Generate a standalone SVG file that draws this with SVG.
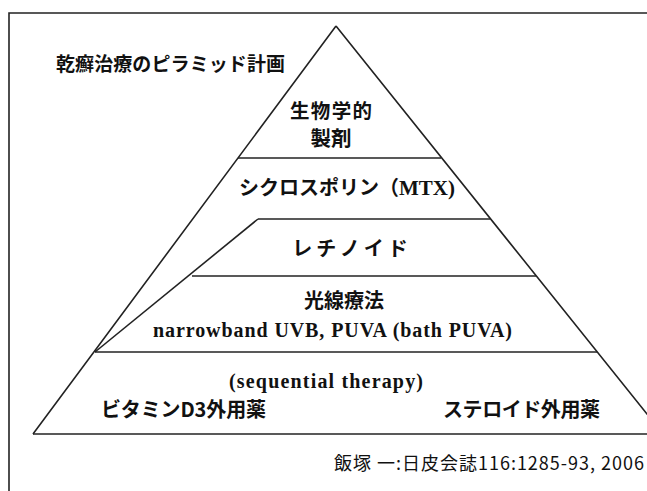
<svg xmlns="http://www.w3.org/2000/svg" width="647" height="491" viewBox="0 0 647 491">
<style>
.jp{font-family:"Noto Sans CJK JP","Noto Sans",sans-serif;font-weight:700;fill:#111;}
.en{font-family:"Liberation Serif","Times New Roman",serif;font-weight:700;fill:#111;}
.cite{font-family:"Noto Sans CJK JP","Noto Sans",sans-serif;font-weight:400;fill:#111;}
.ln{stroke:#222;stroke-width:1.6;fill:none;}
</style>
<rect width="647" height="491" fill="#fff"/>
<g id="frame"><path class="ln" d="M9,491 V13 H647"/></g>
<g id="title"><text class="jp" x="56" y="71" font-size="19" textLength="229">乾癬治療のピラミッド計画</text></g>
<g id="connectors">
<path class="ln" d="M336,26 L33,434 M336,26 L663,434"/>
<path class="ln" d="M238,158 L441,158"/>
<path class="ln" d="M258,219 L490,219"/>
<path class="ln" d="M192,276 L536,276"/>
<path class="ln" d="M258,219 L95,352"/>
<path class="ln" d="M95,352 L597,352"/>
<path class="ln" d="M33,434 L647,434"/>
</g>
<g id="biologics">
<text class="jp" x="331" y="118" font-size="19.5" text-anchor="middle" textLength="82">生物学的</text>
<text class="jp" x="331" y="146" font-size="20.5" text-anchor="middle">製剤</text>
</g>
<g id="cyclosporin">
<text x="239" y="195" font-size="20"><tspan class="jp">シクロスポリン（</tspan><tspan class="en" font-size="21">MTX)</tspan></text>
</g>
<g id="retinoid"><text class="jp" x="352" y="256" font-size="20" text-anchor="middle" letter-spacing="4">レチノイド</text></g>
<g id="phototherapy">
<text class="jp" x="344" y="308" font-size="20" text-anchor="middle">光線療法</text>
<text class="en" x="153" y="337" font-size="20" textLength="359">narrowband UVB, PUVA (bath PUVA)</text>
</g>
<g id="topical">
<text class="en" x="229" y="388" font-size="20" textLength="194">(sequential therapy)</text>
<text class="jp" x="101" y="417" font-size="20" textLength="165">ビタミンD3外用薬</text>
<text class="jp" x="443" y="417" font-size="20" textLength="157">ステロイド外用薬</text>
</g>
<g id="citation"><text class="cite" x="334" y="470" font-size="18" textLength="310">飯塚 一:日皮会誌116:1285-93, 2006</text></g>
</svg>
